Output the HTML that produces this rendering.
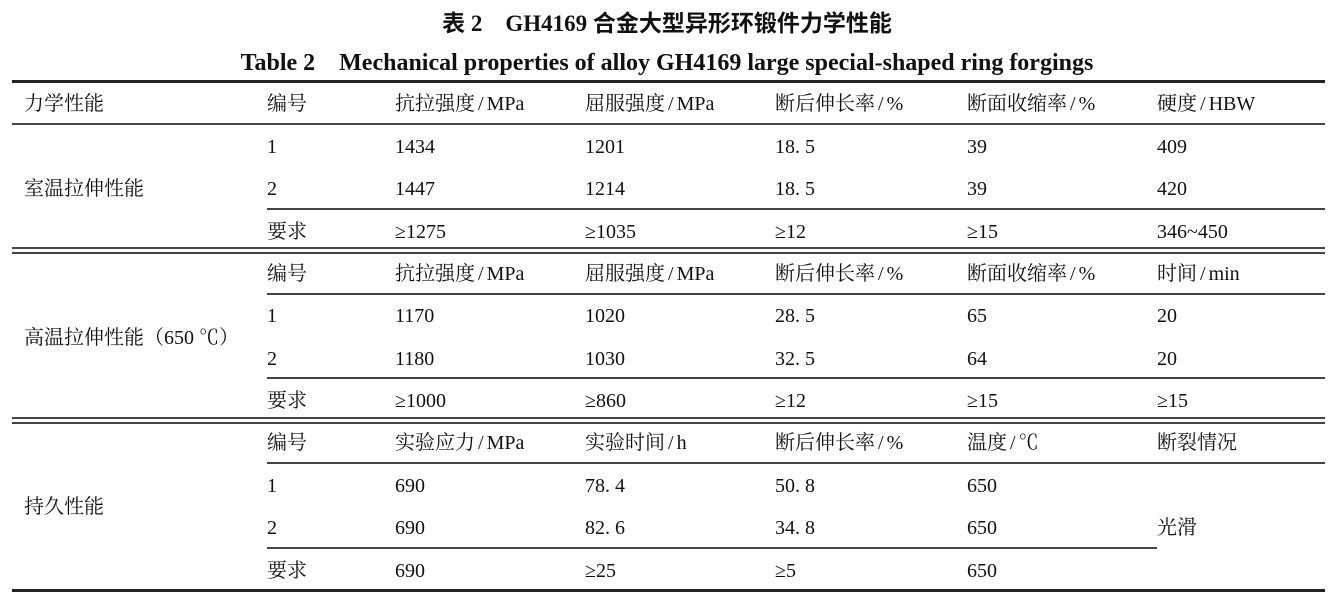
<!DOCTYPE html>
<html><head><meta charset="utf-8"><style>
body{margin:0;width:1334px;height:597px;background:#fff;position:relative;overflow:hidden;font-family:"Liberation Serif","Noto Serif CJK SC",serif;color:#111}
.t{position:absolute;font-size:20px;line-height:22px;white-space:nowrap}
.t i{font-style:normal;padding:0 3px}
.h{position:absolute;background:#444;height:1.5px}
.k{position:absolute;background:#222;height:2.5px}
.ti1{position:absolute;left:0;width:1334px;top:4px;text-align:center;font-size:23px;font-weight:bold;font-family:"Liberation Serif","Noto Sans CJK SC",sans-serif}
.ti2{position:absolute;left:0;width:1334px;top:42px;text-align:center;font-size:24px;font-weight:bold}
</style></head><body>
<div class="ti1">表 2　GH4169 合金大型异形环锻件力学性能</div>
<div class="ti2">Table 2　Mechanical properties of alloy GH4169 large special-shaped ring forgings</div>

<div class="k" style="left:12px;width:1313px;top:80px"></div>
<div class="h" style="left:12px;width:1313px;top:123px"></div>
<div class="h" style="left:267px;width:1058px;top:208px"></div>
<div class="h" style="left:12px;width:1313px;top:247px"></div>
<div class="h" style="left:12px;width:1313px;top:252px"></div>
<div class="h" style="left:267px;width:1058px;top:293px"></div>
<div class="h" style="left:267px;width:1058px;top:377px"></div>
<div class="h" style="left:12px;width:1313px;top:417px"></div>
<div class="h" style="left:12px;width:1313px;top:422px"></div>
<div class="h" style="left:267px;width:1058px;top:462px"></div>
<div class="h" style="left:267px;width:890px;top:547px"></div>
<div class="k" style="left:12px;width:1313px;top:589px"></div>

<div class="t" style="left:24px;top:93px">力学性能</div>
<div class="t" style="left:267px;top:93px">编号</div>
<div class="t" style="left:395px;top:93px">抗拉强度<i>/</i>MPa</div>
<div class="t" style="left:585px;top:93px">屈服强度<i>/</i>MPa</div>
<div class="t" style="left:775px;top:93px">断后伸长率<i>/</i>%</div>
<div class="t" style="left:967px;top:93px">断面收缩率<i>/</i>%</div>
<div class="t" style="left:1157px;top:93px">硬度<i>/</i>HBW</div>

<div class="t" style="left:24px;top:178px">室温拉伸性能</div>
<div class="t" style="left:267px;top:136px">1</div><div class="t" style="left:395px;top:136px">1434</div><div class="t" style="left:585px;top:136px">1201</div><div class="t" style="left:775px;top:136px">18. 5</div><div class="t" style="left:967px;top:136px">39</div><div class="t" style="left:1157px;top:136px">409</div>
<div class="t" style="left:267px;top:178px">2</div><div class="t" style="left:395px;top:178px">1447</div><div class="t" style="left:585px;top:178px">1214</div><div class="t" style="left:775px;top:178px">18. 5</div><div class="t" style="left:967px;top:178px">39</div><div class="t" style="left:1157px;top:178px">420</div>
<div class="t" style="left:267px;top:221px">要求</div><div class="t" style="left:395px;top:221px">≥1275</div><div class="t" style="left:585px;top:221px">≥1035</div><div class="t" style="left:775px;top:221px">≥12</div><div class="t" style="left:967px;top:221px">≥15</div><div class="t" style="left:1157px;top:221px">346~450</div>

<div class="t" style="left:24px;top:327px">高温拉伸性能（650 ℃）</div>
<div class="t" style="left:267px;top:263px">编号</div><div class="t" style="left:395px;top:263px">抗拉强度<i>/</i>MPa</div><div class="t" style="left:585px;top:263px">屈服强度<i>/</i>MPa</div><div class="t" style="left:775px;top:263px">断后伸长率<i>/</i>%</div><div class="t" style="left:967px;top:263px">断面收缩率<i>/</i>%</div><div class="t" style="left:1157px;top:263px">时间<i>/</i>min</div>
<div class="t" style="left:267px;top:305px">1</div><div class="t" style="left:395px;top:305px">1170</div><div class="t" style="left:585px;top:305px">1020</div><div class="t" style="left:775px;top:305px">28. 5</div><div class="t" style="left:967px;top:305px">65</div><div class="t" style="left:1157px;top:305px">20</div>
<div class="t" style="left:267px;top:348px">2</div><div class="t" style="left:395px;top:348px">1180</div><div class="t" style="left:585px;top:348px">1030</div><div class="t" style="left:775px;top:348px">32. 5</div><div class="t" style="left:967px;top:348px">64</div><div class="t" style="left:1157px;top:348px">20</div>
<div class="t" style="left:267px;top:390px">要求</div><div class="t" style="left:395px;top:390px">≥1000</div><div class="t" style="left:585px;top:390px">≥860</div><div class="t" style="left:775px;top:390px">≥12</div><div class="t" style="left:967px;top:390px">≥15</div><div class="t" style="left:1157px;top:390px">≥15</div>

<div class="t" style="left:24px;top:496px">持久性能</div>
<div class="t" style="left:267px;top:432px">编号</div><div class="t" style="left:395px;top:432px">实验应力<i>/</i>MPa</div><div class="t" style="left:585px;top:432px">实验时间<i>/</i>h</div><div class="t" style="left:775px;top:432px">断后伸长率<i>/</i>%</div><div class="t" style="left:967px;top:432px">温度<i>/</i>℃</div><div class="t" style="left:1157px;top:432px">断裂情况</div>
<div class="t" style="left:267px;top:475px">1</div><div class="t" style="left:395px;top:475px">690</div><div class="t" style="left:585px;top:475px">78. 4</div><div class="t" style="left:775px;top:475px">50. 8</div><div class="t" style="left:967px;top:475px">650</div>
<div class="t" style="left:267px;top:517px">2</div><div class="t" style="left:395px;top:517px">690</div><div class="t" style="left:585px;top:517px">82. 6</div><div class="t" style="left:775px;top:517px">34. 8</div><div class="t" style="left:967px;top:517px">650</div><div class="t" style="left:1157px;top:517px">光滑</div>
<div class="t" style="left:267px;top:560px">要求</div><div class="t" style="left:395px;top:560px">690</div><div class="t" style="left:585px;top:560px">≥25</div><div class="t" style="left:775px;top:560px">≥5</div><div class="t" style="left:967px;top:560px">650</div>
</body></html>
